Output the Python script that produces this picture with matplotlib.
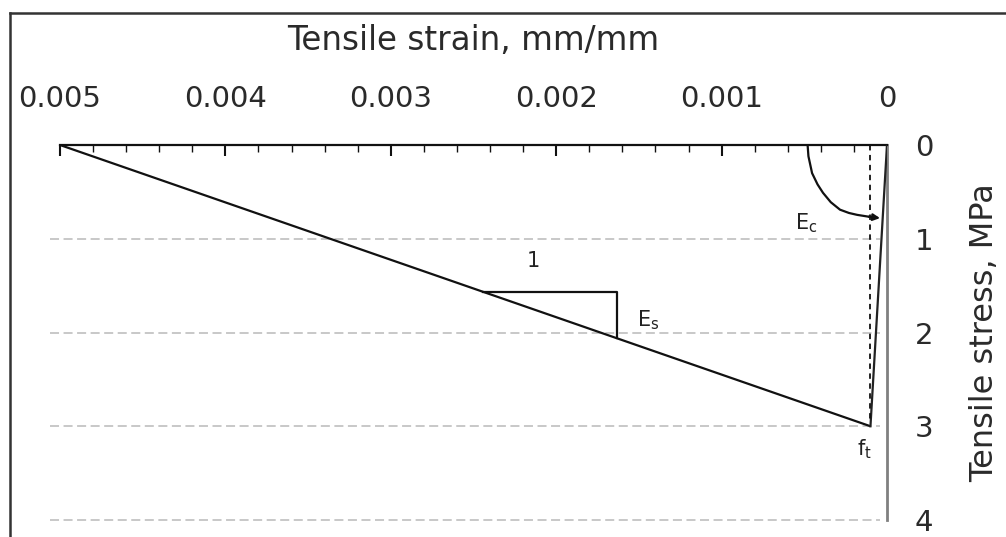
import matplotlib
matplotlib.use("Agg")
import matplotlib.pyplot as plt
from matplotlib.lines import Line2D
import numpy as np

# ---- data ----
x_ticks = [0.005, 0.004, 0.003, 0.002, 0.001, 0.0]
x_tick_labels = ["0.005", "0.004", "0.003", "0.002", "0.001", "0"]
y_ticks = [0, 1, 2, 3, 4]
y_tick_labels = ["0", "1", "2", "3", "4"]

steel_strain = [0.005, 0.0001]
steel_stress = [0.0, 3.0]

concrete_strain = [0.0, 0.0001]
concrete_stress = [0.0, 3.0]

cracking_strain = [0.0001, 0.0001]
cracking_stress = [0.0, 2.95]

curve_strain = [0.00048, 0.000475, 0.000453, 0.000420, 0.000387, 0.000340, 0.000284, 0.000230, 0.000181, 0.000110, 0.000042]
curve_stress = [0.0, 0.12, 0.30, 0.42, 0.51, 0.61, 0.69, 0.725, 0.745, 0.765, 0.78]

tri_strain = [0.002443, 0.001632, 0.001632]
tri_stress = [1.565, 1.565, 2.062]

grid_levels = [1, 2, 3, 4]

# ---- figure ----
W, H = 1006, 537
fig = plt.figure(figsize=(W / 100, H / 100), dpi=100)
ax = fig.add_axes([60 / W, 1 - 520 / H, (887 - 60) / W, (520 - 145) / H])

ax.set_xlim(0.005, 0.0)
ax.set_ylim(4.0, 0.0)

# grid
ax.hlines(grid_levels, 0.00506, 0.00004, colors="#c4c4c4", linestyles=(0, (5, 2.5)),
          linewidth=1.3, clip_on=False, zorder=1)

# lines
ax.plot(steel_strain, steel_stress, color="#111111", lw=1.6, zorder=3, solid_capstyle="butt")
ax.plot(concrete_strain, concrete_stress, color="#222222", lw=1.6, zorder=3)
ax.plot(cracking_strain, cracking_stress, color="#111111", lw=1.3, ls=(0, (3, 2.5)), zorder=3)
ax.plot(curve_strain[:-1], curve_stress[:-1], color="#111111", lw=1.6, zorder=3)
ax.annotate("", xy=(curve_strain[-1], curve_stress[-1]), xytext=(curve_strain[-2], curve_stress[-2]),
            arrowprops=dict(arrowstyle="-|>", color="#111111", lw=1.6, mutation_scale=10,
                            shrinkA=0, shrinkB=0), zorder=4)
ax.plot(tri_strain, tri_stress, color="#111111", lw=1.6, zorder=3)

# annotations
tfont = dict(fontsize=15, color="#222222", family="DejaVu Sans")
ax.text(0.00214, 1.24, "1", ha="center", va="center", **tfont)
ax.text(0.00151, 1.87, r"E$_\mathregular{s}$", ha="left", va="center", **tfont)
ax.text(0.000556, 0.83, r"E$_\mathregular{c}$", ha="left", va="center", **tfont)
ax.text(0.000181, 3.24, r"f$_\mathregular{t}$", ha="left", va="center", **tfont)

# axes styling
for s in ["bottom", "left"]:
    ax.spines[s].set_visible(False)
ax.spines["top"].set_linewidth(1.6)
ax.spines["top"].set_color("#111111")
ax.spines["right"].set_linewidth(2.0)
ax.spines["right"].set_color("#808080")

ax.xaxis.tick_top()
ax.xaxis.set_label_position("top")
ax.set_xticks(x_ticks)
ax.set_xticklabels(x_tick_labels)
ax.set_xticks(np.arange(0.0, 0.00501, 0.0002), minor=True)
ax.tick_params(axis="x", which="major", direction="in", length=8, width=1.5,
               pad=23, labelsize=21, colors="#111111", labelcolor="#2a2a2a")
ax.tick_params(axis="x", which="minor", direction="in", length=5, width=1.0, colors="#111111")
ax.set_xlabel("Tensile strain, mm/mm", fontsize=23.5, color="#2a2a2a", labelpad=25)

ax.yaxis.tick_right()
ax.yaxis.set_label_position("right")
ax.set_yticks(y_ticks)
ax.set_yticklabels(y_tick_labels)
ax.tick_params(axis="y", length=0, pad=20, labelsize=21, labelcolor="#2a2a2a")
ax.set_ylabel("Tensile stress, MPa", fontsize=23, color="#2a2a2a")
ax.yaxis.label.set_va("center")
ax.yaxis.set_label_coords((985 - 60) / (887 - 60), 0.5)

# outer frame
fig.add_artist(Line2D([10 / W, 10 / W], [0, 1 - 13 / H], transform=fig.transFigure,
                      color="#333333", lw=1.8))
fig.add_artist(Line2D([10 / W, 1.0], [1 - 13 / H, 1 - 13 / H], transform=fig.transFigure,
                      color="#333333", lw=1.8))

fig.savefig("out.png", dpi=100)
